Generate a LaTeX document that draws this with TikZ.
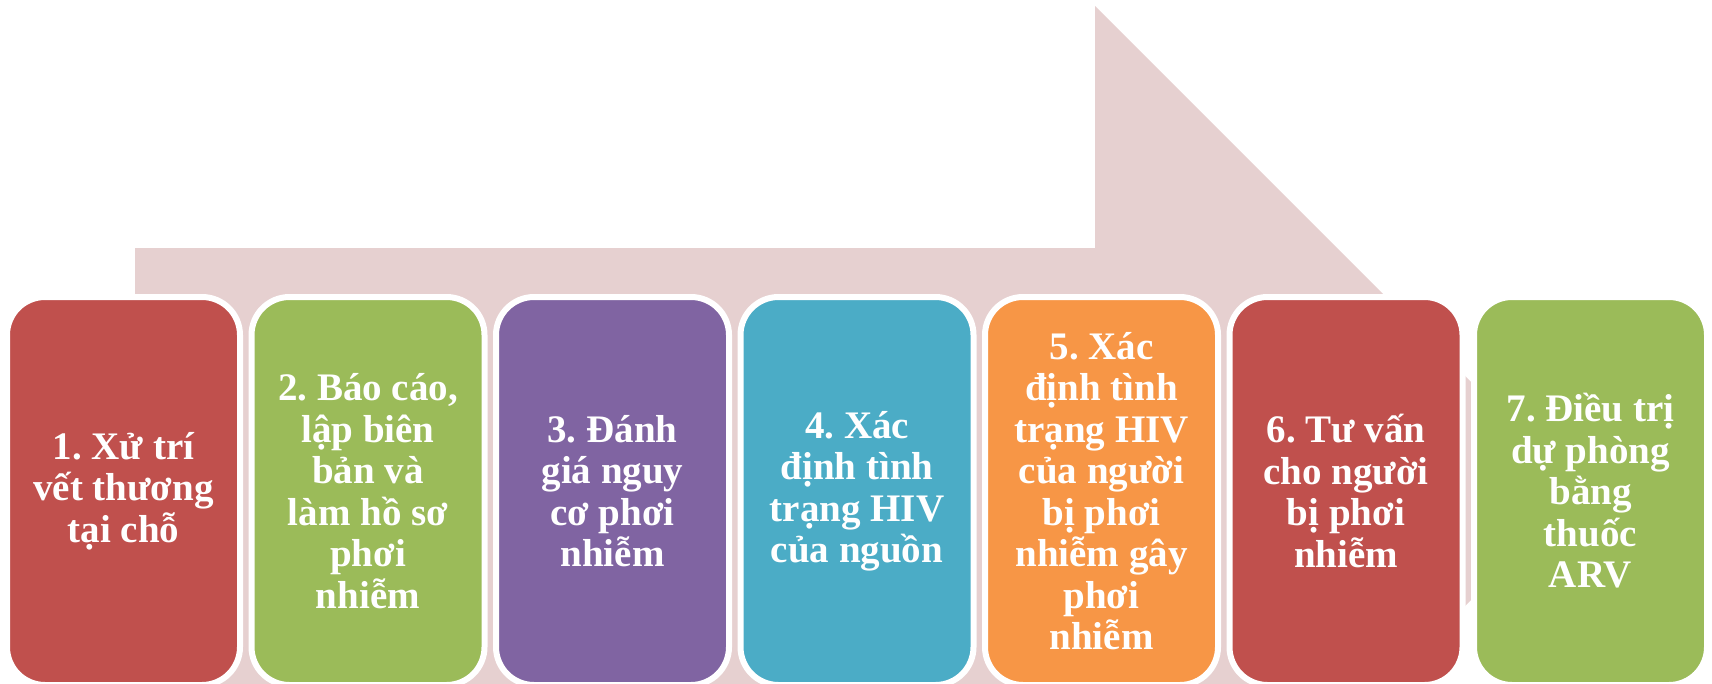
\documentclass[tikz,border=0pt]{standalone}
\usepackage{fontspec}
\setmainfont{Liberation Serif}
\frenchspacing

\definecolor{arrowpink}{HTML}{E6D0D0}
\definecolor{stepred}{HTML}{C0504D}
\definecolor{stepgreen}{HTML}{9BBB59}
\definecolor{steppurple}{HTML}{8064A2}
\definecolor{stepblue}{HTML}{4BACC6}
\definecolor{steporange}{HTML}{F79646}

\tikzset{
  stepbox/.style = {draw = white, line width = 6pt,
    rounded corners = 38pt, inner sep = 0pt,
    minimum width = 233pt, minimum height = 388pt,
    align = center, text = white,
    font = \bfseries\fontsize{39}{41.5}\selectfont}
}

\begin{document}
\begin{tikzpicture}[x = 1pt, y = -1pt]

  % The page is the size of the picture,
  %   everything outside it is cut away

  \useasboundingbox (0, 0) rectangle (1712, 683);
  \clip (0, 0) rectangle (1712, 683);

  % Corners of the big arrow behind the steps

  \coordinate (shaftNW) at ( 135, 248);
  \coordinate (headN)   at (1095, 248);
  \coordinate (headTop) at (1095,   6);
  \coordinate (tip)     at (1580, 491);
  \coordinate (headBot) at (1095, 976);
  \coordinate (headS)   at (1095, 734);
  \coordinate (shaftSW) at ( 135, 734);

  \fill[arrowpink] (shaftNW) -- (headN) -- (headTop) -- (tip)
    -- (headBot) -- (headS) -- (shaftSW) -- cycle;

  % The seven steps, left to right

  \node[stepbox, fill = stepred]    (step1) at ( 123.5, 491)
    {1. Xử trí\\vết thương\\tại chỗ};
  \node[stepbox, fill = stepgreen]  (step2) at ( 368,   491)
    {2. Báo cáo,\\lập biên\\bản và\\làm hồ sơ\\phơi\\nhiễm};
  \node[stepbox, fill = steppurple] (step3) at ( 612.5, 491)
    {3. Đánh\\giá nguy\\cơ phơi\\nhiễm};
  \node[stepbox, fill = stepblue]   (step4) at ( 857,   491)
    {4. Xác\\định tình\\trạng HIV\\của nguồn};
  \node[stepbox, fill = steporange] (step5) at (1101.5, 491)
    {5. Xác\\định tình\\trạng HIV\\của người\\bị phơi\\nhiễm gây\\phơi\\nhiễm};
  \node[stepbox, fill = stepred]    (step6) at (1346,   491)
    {6. Tư vấn\\cho người\\bị phơi\\nhiễm};
  \node[stepbox, fill = stepgreen]  (step7) at (1590.5, 491)
    {7. Điều trị\\dự phòng\\bằng\\thuốc\\ARV};

\end{tikzpicture}
\end{document}
